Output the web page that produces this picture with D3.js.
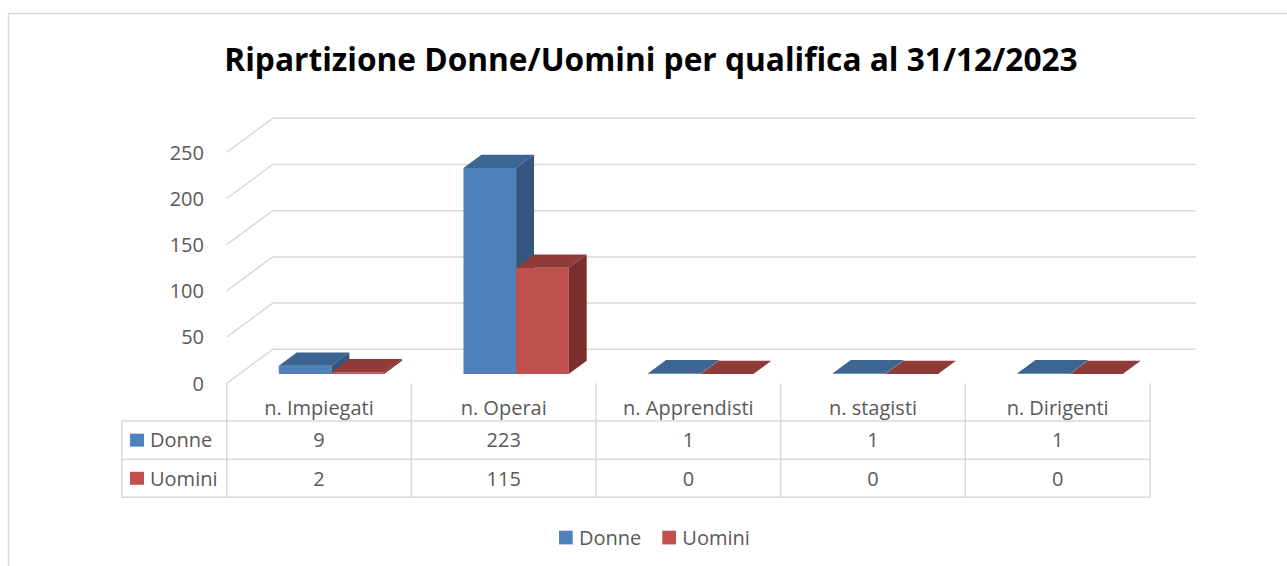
<!DOCTYPE html>
<html>
<head>
<meta charset="utf-8">
<script src="https://cdn.jsdelivr.net/npm/d3@7"></script>
<style>
  body { margin: 0; background: #fff; }
  text { font-family: "Open Sans", "Noto Sans", sans-serif; fill: #595959; }
</style>
</head>
<body>
<div id="chart"></div>
<script>
// data
var categories = ['n. Impiegati', 'n. Operai', 'n. Apprendisti', 'n. stagisti', 'n. Dirigenti'];
var seriesNames = ['Donne', 'Uomini'];
var donne = [9, 223, 1, 1, 1];
var uomini = [2, 115, 0, 0, 0];
var yTicks = [0, 50, 100, 150, 200, 250];
var titleText = 'Ripartizione Donne/Uomini per qualifica al 31/12/2023';

var colors = {
  Donne: {front: '#4F81BD', top: '#3C6591', side: '#33557E'},
  Uomini: {front: '#C0504D', top: '#913B39', side: '#7B2F2D'}
};

var w = 1287, h = 566;
var svg = d3.select('#chart').append('svg')
    .attr('width', w)
    .attr('height', h);

// chart border
svg.append('rect')
    .attr('x', 8.5).attr('y', 13.5)
    .attr('width', 1400).attr('height', 600)
    .attr('fill', 'none')
    .attr('stroke', '#D9D9D9')
    .attr('stroke-width', 1.5);

// title
var title = svg.append('text')
    .attr('x', 651).attr('y', 71)
    .attr('text-anchor', 'middle')
    .style('font-weight', 'bold')
    .style('fill', '#000')
    .style('font-size', '30px')
    .text(titleText);
var tw = title.node().getComputedTextLength();
title.style('font-size', (30 * 854 / tw) + 'px');

// 3d frame
var floorY = 383.3, DX = 46, DY = 34;
var x = d3.scaleBand().domain(categories).range([226.7, 1150]);
var y = d3.scaleLinear().domain([0, 250]).range([0, 231]);
var xs = d3.scaleBand().domain(seriesNames).range([0, x.bandwidth()]).paddingOuter(0.754);

function P(px, v, d) {
  return [px + d * DX, floorY - y(v) - d * DY];
}

// gridlines: back wall + left side diagonal
var grid = svg.append('g').attr('class', 'grid')
    .attr('stroke', '#D9D9D9').attr('stroke-width', 1.5).attr('fill', 'none');
grid.selectAll('path.gl')
    .data(yTicks)
  .enter().append('path')
    .attr('class', 'gl')
    .attr('d', function(v) {
      var a = P(x.range()[0], v, 0), b = P(x.range()[0], v, 1), c = P(x.range()[1], v, 1);
      return 'M' + a + 'L' + b + 'L' + c;
    });

// y labels
svg.selectAll('text.ylab')
    .data(yTicks)
  .enter().append('text')
    .attr('class', 'ylab')
    .attr('x', 204)
    .attr('y', function(v) { return floorY - y(v); })
    .attr('dy', '0.36em')
    .attr('text-anchor', 'end')
    .style('font-size', '20px')
    .text(function(d) { return d; });

// bars
var d0 = 0.27, d1 = 0.66;
var barData = [];
categories.forEach(function(c, i) {
  barData.push({cat: c, s: 'Donne', v: donne[i]});
  barData.push({cat: c, s: 'Uomini', v: uomini[i]});
});

var bars = svg.selectAll('g.bar')
    .data(barData)
  .enter().append('g')
    .attr('class', 'bar');

function poly(pts) { return 'M' + pts.join('L') + 'Z'; }

bars.append('path')
    .attr('fill', function(d) { return colors[d.s].front; })
    .attr('d', function(d) {
      var x0 = x(d.cat) + xs(d.s), x1 = x0 + xs.bandwidth();
      return poly([P(x0, 0, d0), P(x1, 0, d0), P(x1, d.v, d0), P(x0, d.v, d0)]);
    });
bars.append('path')
    .attr('fill', function(d) { return colors[d.s].top; })
    .attr('d', function(d) {
      var x0 = x(d.cat) + xs(d.s), x1 = x0 + xs.bandwidth();
      return poly([P(x0, d.v, d0), P(x1, d.v, d0), P(x1, d.v, d1), P(x0, d.v, d1)]);
    });
bars.append('path')
    .attr('fill', function(d) { return colors[d.s].side; })
    .attr('d', function(d) {
      var x0 = x(d.cat) + xs(d.s), x1 = x0 + xs.bandwidth();
      return poly([P(x1, 0, d0), P(x1, 0, d1), P(x1, d.v, d1), P(x1, d.v, d0)]);
    });

// data table
var rowY = [421, 459.3, 497.3];
var tableLeft = 121.7, tableRight = x.range()[1];
var tbl = svg.append('g').attr('class', 'table')
    .attr('stroke', '#D9D9D9').attr('stroke-width', 1.5);

tbl.selectAll('line.h')
    .data(rowY)
  .enter().append('line')
    .attr('class', 'h')
    .attr('x1', tableLeft).attr('x2', tableRight)
    .attr('y1', function(d) { return d; }).attr('y2', function(d) { return d; });

var bounds = categories.map(function(c) { return x(c); }).concat([tableRight]);
tbl.selectAll('line.v')
    .data(bounds)
  .enter().append('line')
    .attr('class', 'v')
    .attr('x1', function(d) { return d; }).attr('x2', function(d) { return d; })
    .attr('y1', floorY).attr('y2', rowY[2]);

tbl.append('line')
    .attr('x1', tableLeft).attr('x2', tableLeft)
    .attr('y1', rowY[0]).attr('y2', rowY[2]);

// category labels
svg.selectAll('text.cat')
    .data(categories)
  .enter().append('text')
    .attr('class', 'cat')
    .attr('x', function(d) { return x(d) + x.bandwidth() / 2; })
    .attr('y', 408)
    .attr('dy', '0.36em')
    .attr('text-anchor', 'middle')
    .style('font-size', '20px')
    .text(function(d) { return d; });

// table rows
var rows = [donne, uomini];
rows.forEach(function(vals, r) {
  var cy = (rowY[r] + rowY[r + 1]) / 2;
  var s = seriesNames[r];
  svg.append('rect')
      .attr('x', 130).attr('y', cy - 6.5)
      .attr('width', 14).attr('height', 13)
      .attr('fill', colors[s].front);
  svg.append('text')
      .attr('x', 150).attr('y', cy)
      .attr('dy', '0.36em')
      .style('font-size', '20px')
      .text(s);
  svg.selectAll('text.val' + r)
      .data(vals)
    .enter().append('text')
      .attr('class', 'val' + r)
      .attr('x', function(d, i) { return x(categories[i]) + x.bandwidth() / 2; })
      .attr('y', cy)
      .attr('dy', '0.36em')
      .attr('text-anchor', 'middle')
      .style('font-size', '20px')
      .text(function(d) { return d; });
});

// legend
var legX = [559, 662.3];
var leg = svg.selectAll('g.leg')
    .data(seriesNames)
  .enter().append('g')
    .attr('class', 'leg')
    .attr('transform', function(d, i) { return 'translate(' + [legX[i], 537.5] + ')'; });
leg.append('rect')
    .attr('x', 0).attr('y', -6.8)
    .attr('width', 13.7).attr('height', 13.7)
    .attr('fill', function(d) { return colors[d].front; });
leg.append('text')
    .attr('x', 20).attr('y', 0)
    .attr('dy', '0.36em')
    .style('font-size', '20px')
    .text(function(d) { return d; });
</script>
</body>
</html>
